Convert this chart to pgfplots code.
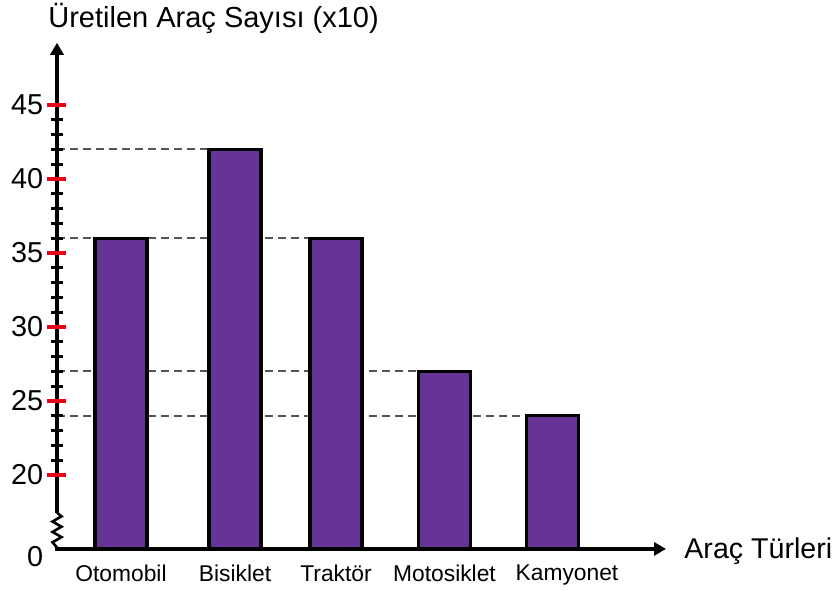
\documentclass[border=0pt]{standalone}
\usepackage{pgfplots}
\pgfplotsset{compat=1.18}
\usepackage{fontspec}
\setmainfont{Liberation Sans}
\usetikzlibrary{arrows.meta}
\definecolor{barpurple}{RGB}{102,51,150}
\definecolor{dashgray}{RGB}{85,85,85}
\definecolor{tickred}{RGB}{230,0,25}
\begin{document}
\begin{tikzpicture}
\begin{axis}[
  x=0.5pt, y=7.4pt,
  xmin=57, xmax=666, ymin=15, ymax=49.2,
  axis line style={draw=none},
  clip mode=individual,
  axis on top,
  xtick={121,235,336,444.5,567},
  xticklabels={Otomobil,Bisiklet,Traktör,Motosiklet,Kamyonet},
  xtick style={draw=none},
  xticklabel style={font=\fontsize{11.4}{13}\selectfont, inner sep=0pt, anchor=north, yshift=-3pt},
  xtick pos=bottom, ytick pos=left,
  ytick={20,25,30,35,40,45},
  yticklabels={20,25,30,35,40,45},
  minor ytick={21,22,23,24,26,27,28,29,31,32,33,34,36,37,38,39,41,42,43,44},
  extra y ticks={15}, extra y tick labels={0},
  extra y tick style={major tick style={draw=none}, yticklabel style={yshift=-4pt}},
  tick align=center,
  major tick length=9.5pt, minor tick length=6pt,
  every major tick/.append style={tickred, line width=1.9pt},
  every minor tick/.append style={black, line width=1.5pt},
  yticklabel style={font=\fontsize{14.4}{17}\selectfont, inner sep=0pt, anchor=east, xshift=-2pt},
  /pgf/number format/assume math mode=true,
]
\addplot[dashgray, line width=1pt, dash pattern=on 4pt off 2.5pt] coordinates {(57,42) (209,42)};
\addplot[dashgray, line width=1pt, dash pattern=on 4pt off 2.5pt] coordinates {(57,36) (310,36)};
\addplot[dashgray, line width=1pt, dash pattern=on 4pt off 2.5pt] coordinates {(57,27) (419,27)};
\addplot[dashgray, line width=1pt, dash pattern=on 4pt off 2.5pt] coordinates {(57,24) (526,24)};
\addplot[ybar, bar width=52, bar shift=0pt, fill=barpurple, draw=black, line width=1.6pt]
  coordinates {(121,36) (235,42) (336,36) (444.5,27) (552.5,24)};
\draw[line width=2.2pt, -{Triangle[length=6pt,width=6.5pt]}] (axis cs:57,17.4) -- (axis cs:57,49.2);
\draw[line width=1.3pt] (axis cs:57,17.45) -- (axis cs:61.5,17.2) -- (axis cs:52.5,16.85) -- (axis cs:61.5,16.5) -- (axis cs:52.5,16.15) -- (axis cs:61.5,15.8) -- (axis cs:52.5,15.45) -- (axis cs:57,15.1);
\draw[line width=2.2pt, -{Triangle[length=6pt,width=6.5pt]}] (axis cs:55,15) -- (axis cs:666,15);
\node[anchor=base west, inner sep=0pt, font=\fontsize{14.5}{17}\selectfont] at (axis cs:48,50.2) {Üretilen Araç Sayısı (x10)};
\node[anchor=base west, inner sep=0pt, font=\fontsize{14.3}{17}\selectfont] at (axis cs:684,14.32) {Araç Türleri};
\coordinate (bl) at (axis cs:0,12.23);
\coordinate (tr) at (axis cs:839,52.09);
\end{axis}
\path (bl) rectangle (tr);
\end{tikzpicture}
\end{document}
